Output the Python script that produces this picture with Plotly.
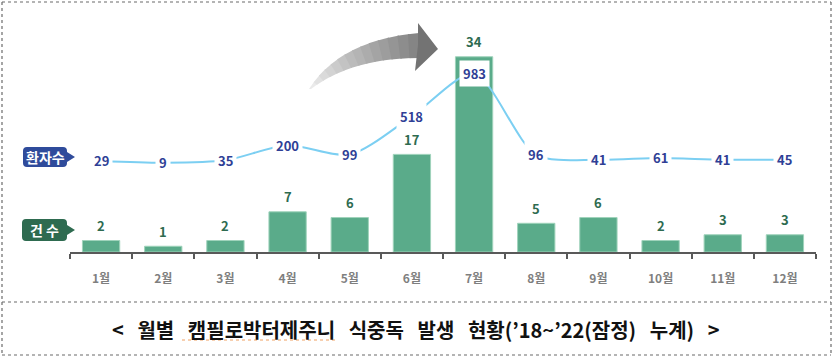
import plotly.graph_objects as go

months = ["1월", "2월", "3월", "4월", "5월", "6월", "7월", "8월", "9월", "10월", "11월", "12월"]
cases = [2, 1, 2, 7, 6, 17, 34, 5, 6, 2, 3, 3]
patients = [29, 9, 35, 200, 99, 518, 983, 96, 41, 61, 41, 45]
SP = "\u00a0\u00a0\u00a0"
caption = "<" + SP + "월별" + SP + "캠필로박터제주니" + SP + "식중독" + SP + "발생" + SP + "현황(’18~’22(잠정)" + SP + "누계)" + SP + ">"

W, H = 835, 360
L, R, T, B = 70, 816, 20, 252
FONT = "Noto Sans CJK KR"


def fx(x):
    return (x - L) / (R - L)


def fy(y):
    return (B - y) / (B - T)


def P(x, y):
    return f"{fx(x):.5f},{fy(y):.5f}"


def callout(x0, y0, x1, y1, tip, r=4):
    ym = (y0 + y1) / 2
    return ("M " + P(x0 + r, y0) + " L " + P(x1 - r, y0) +
            " Q " + P(x1, y0) + " " + P(x1, y0 + r) +
            " L " + P(x1, ym - 5) + " L " + P(tip, ym) + " L " + P(x1, ym + 5) +
            " L " + P(x1, y1 - r) + " Q " + P(x1, y1) + " " + P(x1 - r, y1) +
            " L " + P(x0 + r, y1) + " Q " + P(x0, y1) + " " + P(x0, y1 - r) +
            " L " + P(x0, y0 + r) + " Q " + P(x0, y0) + " " + P(x0 + r, y0) + " Z")


def bez(p0, p1, p2, t):
    return ((1 - t) ** 2 * p0[0] + 2 * (1 - t) * t * p1[0] + t * t * p2[0],
            (1 - t) ** 2 * p0[1] + 2 * (1 - t) * t * p1[1] + t * t * p2[1])


fig = go.Figure()
fig.add_trace(go.Bar(
    x=months, y=cases, marker=dict(color="#5aab8a", line=dict(color="#9fd3bb", width=1)),
    hoverinfo="skip", showlegend=False))
fig.add_trace(go.Scatter(
    x=months, y=patients, yaxis="y2", mode="lines",
    line=dict(color="#7ccff2", width=2, shape="spline", smoothing=0.8),
    hoverinfo="skip", showlegend=False))

annotations = []
for m, c in zip(months, cases):
    annotations.append(dict(x=m, y=c, xref="x", yref="y", yshift=15, showarrow=False,
                            xanchor="center", yanchor="middle",
                            text=str(c), font=dict(family=FONT, size=13, color="#2e6b50", weight="bold")))
for m, p in zip(months, patients):
    annotations.append(dict(x=m, y=p, xref="x", yref="y2", showarrow=False, bgcolor="white",
                            xanchor="center", yanchor="middle",
                            borderpad=3, text=str(p),
                            font=dict(family=FONT, size=13, color="#2f3f96", weight="bold")))

shapes = []
# callouts
shapes.append(dict(type="path", xref="paper", yref="paper", path=callout(23, 147, 67, 167, 75),
                   fillcolor="#2f4b9b", line=dict(width=0), layer="below"))
shapes.append(dict(type="path", xref="paper", yref="paper", path=callout(22, 219, 67, 241, 75),
                   fillcolor="#2e6b50", line=dict(width=0), layer="below"))
annotations.append(dict(x=fx(45), y=fy(157), xref="paper", yref="paper", showarrow=False, text="환자수",
                        xanchor="center", yanchor="middle",
                        font=dict(family=FONT, size=14, color="white", weight="bold")))
annotations.append(dict(x=fx(44.5), y=fy(230), xref="paper", yref="paper", showarrow=False, text="건 수",
                        xanchor="center", yanchor="middle",
                        font=dict(family=FONT, size=14, color="white", weight="bold")))

# curved gradient arrow
top0, top1, top2 = (309, 89), (340, 40), (419, 33)
bot0, bot1, bot2 = (311, 89), (352, 58), (419, 58)
N = 14
for i in range(N):
    t0, t1 = i / N, min(1.0, (i + 1.15) / N)
    a, b = bez(top0, top1, top2, t0), bez(top0, top1, top2, t1)
    c, d = bez(bot0, bot1, bot2, t1), bez(bot0, bot1, bot2, t0)
    g = int(238 - (238 - 130) * (i + 0.5) / N)
    shapes.append(dict(type="path", xref="paper", yref="paper",
                       path="M " + P(*a) + " L " + P(*b) + " L " + P(*c) + " L " + P(*d) + " Z",
                       fillcolor=f"rgb({g},{g},{g})", line=dict(width=0), layer="above"))
shapes.append(dict(type="path", xref="paper", yref="paper",
                   path="M " + P(418, 23) + " L " + P(438, 49) + " L " + P(415, 71) + " L " + P(418, 45) + " Z",
                   fillcolor="rgb(115,115,115)", line=dict(width=0), layer="above"))

# dotted frames
for (x0, y0, x1, y1) in [(2, 2, 831, 2), (2, 355, 831, 355), (2, 2, 2, 355), (831, 2, 831, 355), (2, 302, 831, 302)]:
    shapes.append(dict(type="line", xref="paper", yref="paper", x0=fx(x0), y0=fy(y0), x1=fx(x1), y1=fy(y1),
                       line=dict(color="#6b6b6b", width=1.2, dash="dot")))
# spell-check underline
shapes.append(dict(type="line", xref="paper", yref="paper", x0=fx(182), y0=fy(340), x1=fx(337), y1=fy(340),
                   line=dict(color="#f0a060", width=1, dash="dot")))

annotations.append(dict(x=fx(416), y=fy(329), xref="paper", yref="paper", showarrow=False, text=caption,
                        xanchor="center", yanchor="middle",
                        font=dict(family=FONT, size=20, color="#111111", weight="bold")))

fig.update_layout(
    width=W, height=H, margin=dict(l=L, r=W - R, t=T, b=H - B),
    paper_bgcolor="white", plot_bgcolor="rgba(0,0,0,0)", bargap=0.4,
    xaxis=dict(type="category", showline=True, linecolor="#595959", linewidth=2,
               ticks="outside", tickson="boundaries", ticklen=5, tickwidth=2, tickcolor="#595959",
               ticklabelstandoff=15, showgrid=False, zeroline=False,
               tickfont=dict(family=FONT, size=12, color="#7f7f7f", weight="bold")),
    yaxis=dict(range=[0, 40.4], visible=False, showgrid=False, zeroline=False),
    yaxis2=dict(range=[-971, 1575], overlaying="y", visible=False, showgrid=False, zeroline=False),
    annotations=annotations, shapes=shapes,
)

fig.write_html("out.html", config={"displayModeBar": False},
               post_script="document.body.style.margin='0';")
